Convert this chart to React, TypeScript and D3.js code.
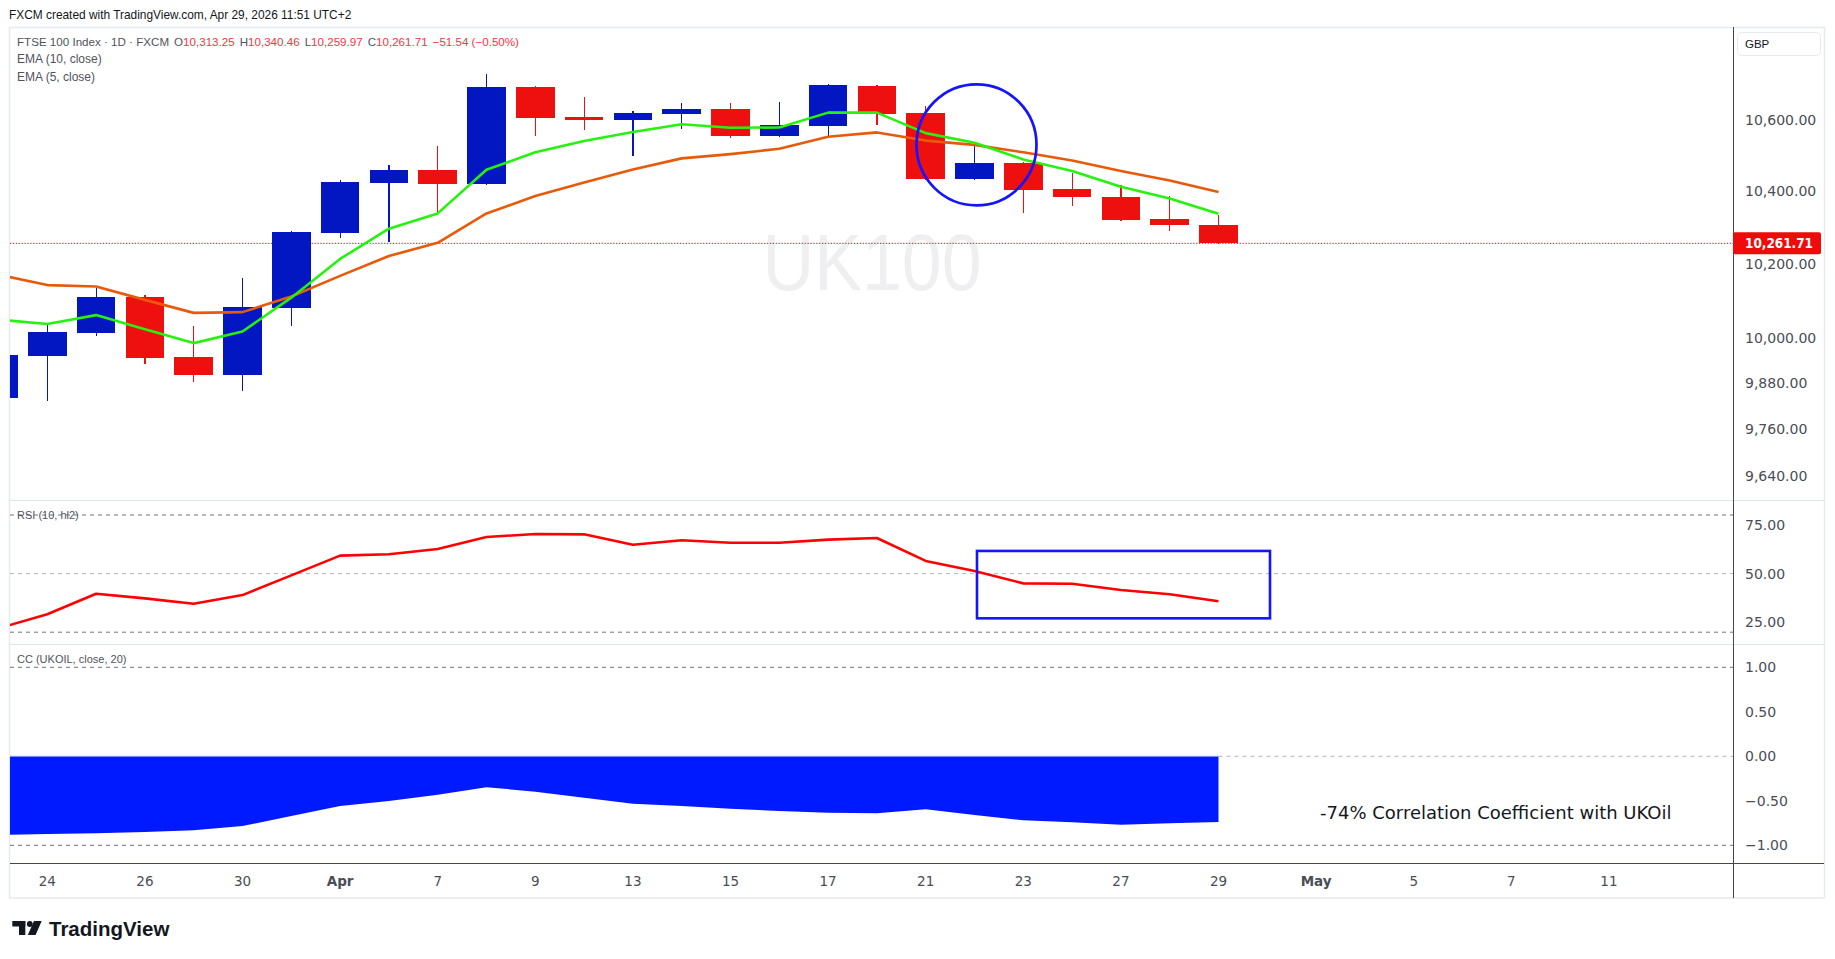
import React from 'react';
import * as d3 from 'd3';

// ---------- data (bar -1 = Mar 23, bar 0 = Mar 24 ... bar 24 = Apr 29) ----------
const dates = ['Mar 23','Mar 24','Mar 25','Mar 26','Mar 27','Mar 30','Mar 31','Apr 1','Apr 2','Apr 7','Apr 8','Apr 9','Apr 10','Apr 13','Apr 14','Apr 15','Apr 16','Apr 17','Apr 20','Apr 21','Apr 22','Apr 23','Apr 24','Apr 27','Apr 28','Apr 29'];
const opens = [9848, 9958, 10020, 10116, 9955, 9908, 10087, 10290, 10429, 10465, 10426, 10699, 10614, 10606, 10623, 10636, 10561, 10589, 10702, 10625, 10440, 10484, 10411, 10389, 10328, 10313.25];
const highs = [9975, 10040, 10139, 10120, 10038, 10167, 10296, 10437, 10479, 10532, 10736, 10702, 10670, 10631, 10653, 10653, 10656, 10708, 10705, 10645, 10532, 10486, 10457, 10423, 10392, 10340.46];
const lows = [9835, 9840, 10012, 9937, 9890, 9866, 10038, 10277, 10265, 10349, 10424, 10561, 10577, 10505, 10580, 10555, 10558, 10561, 10591, 10438, 10438, 10346, 10365, 10324, 10296, 10259.97];
const closes = [9960, 10022, 10116, 9953, 9908, 10089, 10293, 10431, 10465, 10426, 10699, 10612, 10606, 10625, 10636, 10561, 10591, 10705, 10623, 10440, 10484, 10410, 10388, 10327, 10313.25, 10261.71];
const ema10 = [10176, 10148, 10144, 10108, 10073, 10075, 10117, 10173, 10227, 10263, 10344, 10392, 10430, 10466, 10497, 10509, 10524, 10558, 10570, 10547, 10535, 10514, 10491, 10462, 10435, 10403];
const ema5 = [10055, 10043, 10067, 10029, 9992, 10023, 10114, 10219, 10302, 10344, 10465, 10514, 10546, 10571, 10593, 10583, 10584, 10626, 10626, 10568, 10541, 10494, 10462, 10418, 10385, 10343];
const rsi = [22.0, 29.2, 39.7, 37.3, 34.6, 39.0, 49.1, 59.2, 59.9, 62.6, 68.7, 70.3, 70.1, 64.8, 67.1, 65.8, 65.8, 67.4, 68.2, 56.5, 51.3, 45.0, 44.8, 41.6, 39.4, 35.8];
const cc = [-0.883, -0.873, -0.865, -0.851, -0.832, -0.783, -0.671, -0.558, -0.502, -0.431, -0.348, -0.397, -0.465, -0.532, -0.558, -0.588, -0.615, -0.633, -0.64, -0.596, -0.66, -0.719, -0.742, -0.768, -0.753, -0.738];

const priceTicks = [10600, 10400, 10200, 10000, 9880, 9760, 9640];
const rsiTicks = [75, 50, 25];
const rsiBands = [80, 50, 20];
const ccTicks = [1, 0.5, 0, -0.5, -1];
const ccBands = [1, 0, -1];
const timeLabels: [string, number, boolean][] = [
  ['24', 0, false], ['26', 2, false], ['30', 4, false], ['Apr', 6, true], ['7', 8, false],
  ['9', 10, false], ['13', 12, false], ['15', 14, false], ['17', 16, false], ['21', 18, false],
  ['23', 20, false], ['27', 22, false], ['29', 24, false], ['May', 26, true], ['5', 28, false],
  ['7', 30, false], ['11', 32, false],
];
const lastPrice = 10261.71;
const legendOHLC: [string, string][] = [['O', '10,313.25'], ['H', '10,340.46'], ['L', '10,259.97'], ['C', '10,261.71']];
const legendChange = '\u221251.54 (\u22120.50%)';

// ---------- layout ----------
const W = 1835, H = 959;
const L = 10, R = 1733, AX = 1745;
const P_TOP = 27, P_BOT = 500, R_BOT = 644, C_BOT = 863, FRAME_BOT = 898;

const BLUE = '#0217c2', RED = '#ee0f0f', GREEN = '#26f20f', ORANGE = '#e85a0a';
const AXIS_TXT = '#4a4d57', LEG = '#50535e', LEG_RED = '#f23645';
const NUM_FONT = 'DejaVu Sans, sans-serif';
const TXT_FONT = 'Liberation Sans, Arial, sans-serif';

const fmt2 = d3.format(',.2f');
const fmtSigned = (v: number) => d3.format('.2f')(v).replace('-', '\u2212');

export default function App() {
  const x = d3.scaleLinear().domain([0, 24]).range([47.3, 1218.5]);
  const yP = d3.scaleLog().domain([9640, 10600]).range([477.5, 121.8]);
  const yR = d3.scaleLinear().domain([20, 80]).range([632.2, 515]);
  const yC = d3.scaleLinear().domain([-1, 1]).range([845.3, 667.3]);
  const xi = (k: number) => x(k - 1);
  const bodyW = 38.7;

  const lineP = d3.line<number>().x((_, k) => xi(k)).y((d) => yP(d));
  const lineR = d3.line<number>().x((_, k) => xi(k)).y((d) => yR(d));
  const areaC = d3.area<number>().x((_, k) => xi(k)).y0(yC(0)).y1((d) => yC(d));

  return (
    <div style={{ position: 'absolute', left: 0, top: 0 }}>
      <svg width={W} height={H} viewBox={`0 0 ${W} ${H}`} style={{ display: 'block', background: '#fff' }}>
        <defs>
          <clipPath id="cp"><rect x={L} y={P_TOP} width={R - L} height={P_BOT - P_TOP} /></clipPath>
          <clipPath id="cr"><rect x={L} y={P_BOT} width={R - L} height={R_BOT - P_BOT} /></clipPath>
          <clipPath id="cc"><rect x={L} y={R_BOT} width={R - L} height={C_BOT - R_BOT} /></clipPath>
        </defs>

        {/* header */}
        <text x={9} y={18.5} fontFamily={TXT_FONT} fontSize={11.9} fill="#131722">
          FXCM created with TradingView.com, Apr 29, 2026 11:51 UTC+2
        </text>

        {/* frame */}
        <rect x={9.5} y={27.5} width={1815} height={FRAME_BOT - 27.5} fill="none" stroke="#e6e9f0" strokeWidth={1.5} />
        <line x1={L} x2={1824} y1={P_BOT + 0.5} y2={P_BOT + 0.5} stroke="#e0e3eb" />
        <line x1={L} x2={1824} y1={R_BOT + 0.5} y2={R_BOT + 0.5} stroke="#e0e3eb" />
        <line x1={L} x2={1824} y1={C_BOT + 0.5} y2={C_BOT + 0.5} stroke="#434651" />
        <line x1={R + 0.5} x2={R + 0.5} y1={P_TOP} y2={FRAME_BOT} stroke="#434651" />

        {/* watermark */}
        <text x={872} y={290} textAnchor="middle" fontFamily={TXT_FONT} fontSize={80} fill="#efeff2" textLength={219} lengthAdjust="spacingAndGlyphs">UK100</text>

        {/* price pane */}
        <g clipPath="url(#cp)">
          <line x1={L} x2={R} y1={yP(lastPrice)} y2={yP(lastPrice)} stroke="#e81010" strokeWidth={1} strokeDasharray="1.3 1.6" />
          {opens.map((o, k) => {
            const c = closes[k];
            const up = c >= o;
            const col = up ? BLUE : RED;
            const cx = xi(k);
            const top = yP(Math.max(o, c));
            const bot = yP(Math.min(o, c));
            return (
              <g key={dates[k]} shapeRendering="crispEdges">
                <line x1={cx} x2={cx} y1={yP(highs[k])} y2={yP(lows[k])} stroke={col} strokeWidth={1.2} />
                <rect x={cx - bodyW / 2} y={top} width={bodyW} height={Math.max(1, bot - top)} fill={col} />
              </g>
            );
          })}
          <path d={lineP(ema10) || ''} fill="none" stroke={ORANGE} strokeWidth={2.6} strokeLinejoin="round" />
          <path d={lineP(ema5) || ''} fill="none" stroke={GREEN} strokeWidth={2.6} strokeLinejoin="round" />
          <ellipse cx={xi(20) + 2} cy={yP(10535)} rx={60} ry={60.5} fill="none" stroke="#1414ff" strokeWidth={2.7} />
        </g>

        {/* legend */}
        <text y={45.5} fontFamily={TXT_FONT} fontSize={11.6} fill={LEG}>
          <tspan x={17}>FTSE 100 Index · 1D · FXCM</tspan>
          {legendOHLC.map(([k, v]) => (
            <React.Fragment key={k}>
              <tspan dx={5}>{k}</tspan>
              <tspan fill={LEG_RED}>{v}</tspan>
            </React.Fragment>
          ))}
          <tspan dx={5} fill={LEG_RED}>{legendChange}</tspan>
        </text>
        <text x={17} y={63} fontFamily={TXT_FONT} fontSize={12} fill={LEG}>EMA (10, close)</text>
        <text x={17} y={80.5} fontFamily={TXT_FONT} fontSize={12} fill={LEG}>EMA (5, close)</text>

        {/* price axis */}
        <rect x={1737.5} y={32.5} width={83} height={23} rx={4} fill="#fff" stroke="#e6e9f0" />
        <text x={1745} y={48} fontFamily={TXT_FONT} fontSize={11.5} fill="#131722">GBP</text>
        {priceTicks.map((t) => (
          <text key={t} x={AX} y={yP(t) + 3} fontFamily={NUM_FONT} fontSize={14} fill={AXIS_TXT}>{fmt2(t)}</text>
        ))}
        <rect x={R} y={yP(lastPrice) - 11} width={88} height={22} rx={2} fill="#ee0b0b" />
        <text x={AX} y={yP(lastPrice) + 5} fontFamily={NUM_FONT} fontSize={13.5} fontWeight="bold" fill="#fff" textLength={68} lengthAdjust="spacingAndGlyphs">{fmt2(lastPrice)}</text>

        {/* RSI pane */}
        {rsiBands.map((b) => (
          <line key={b} x1={L} x2={R} y1={yR(b)} y2={yR(b)} stroke={b === 50 ? '#b2b5be' : '#6f7280'} strokeDasharray="4 4" />
        ))}
        <text x={17} y={519} fontFamily={TXT_FONT} fontSize={11} fill={LEG}>RSI (10, hl2)</text>
        <g clipPath="url(#cr)">
          <path d={lineR(rsi) || ''} fill="none" stroke="#ff0000" strokeWidth={2.6} strokeLinejoin="round" />
        </g>
        <rect x={xi(20) + 2.5} y={yR(61.6)} width={x(24) + 51.5 - (xi(20) + 2.5)} height={yR(27.1) - yR(61.6)} fill="none" stroke="#1414ff" strokeWidth={2.6} />
        {rsiTicks.map((t) => (
          <text key={t} x={AX} y={yR(t) + 5} fontFamily={NUM_FONT} fontSize={14} fill={AXIS_TXT}>{d3.format('.2f')(t)}</text>
        ))}

        {/* CC pane */}
        <g clipPath="url(#cc)">
          <path d={areaC(cc) || ''} fill="#001aff" />
          <line x1={L} x2={xi(25)} y1={yC(0)} y2={yC(0)} stroke="#8f9cff" strokeWidth={1} />
        </g>
        {ccBands.map((b) => (
          <line key={b} x1={b === 0 ? xi(25) : L} x2={R} y1={yC(b)} y2={yC(b)} stroke={b === 0 ? '#b2b5be' : '#6f7280'} strokeDasharray="4 4" />
        ))}
        <text x={17} y={663} fontFamily={TXT_FONT} fontSize={11} fill={LEG}>CC (UKOIL, close, 20)</text>
        {ccTicks.map((t) => (
          <text key={t} x={AX} y={yC(t) + 5} fontFamily={NUM_FONT} fontSize={14} fill={AXIS_TXT}>{fmtSigned(t)}</text>
        ))}
        <text x={1320} y={818.5} fontFamily={NUM_FONT} fontSize={18} fill="#131722">-74% Correlation Coefficient with UKOil</text>

        {/* time axis */}
        {timeLabels.map(([t, k, bold]) => (
          <text key={t + k} x={x(k)} y={886} textAnchor="middle" fontFamily={NUM_FONT} fontSize={13.5} fontWeight={bold ? 'bold' : 'normal'} fill={AXIS_TXT}>{t}</text>
        ))}

        {/* TradingView logo */}
        <g fill="#131722">
          <rect x={12.3} y={921} width={13} height={5.5} />
          <rect x={19} y={921} width={6.3} height={14} />
          <circle cx={29.8} cy={924} r={2.9} />
          <polygon points="34,921 41.7,921 35.6,935 27.8,935" />
        </g>
        <text x={49} y={935.5} fontFamily={TXT_FONT} fontSize={20.5} fontWeight="bold" fill="#131722">TradingView</text>
      </svg>
    </div>
  );
}
